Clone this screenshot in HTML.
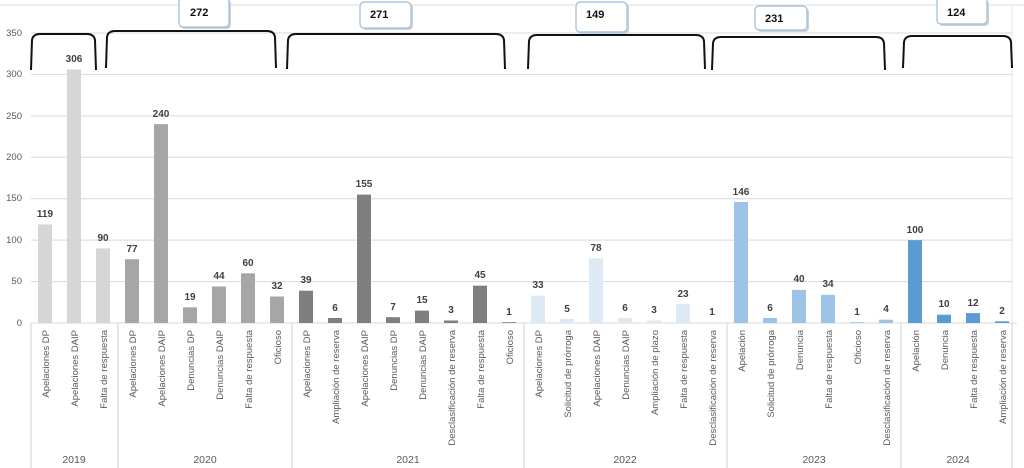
<!DOCTYPE html>
<html><head><meta charset="utf-8"><style>
body{margin:0;background:#fff;}
svg{display:block;font-family:"Liberation Sans",sans-serif;}
.v{font-size:10px;font-weight:bold;fill:#404040;text-anchor:middle;}
.c{font-size:9.5px;fill:#595959;text-anchor:end;}
.y{font-size:10.5px;fill:#595959;text-anchor:middle;}
.t{font-size:9.5px;fill:#595959;text-anchor:end;}
.g{stroke:#d9d9d9;stroke-width:1;}
.b{fill:none;stroke:#111;stroke-width:2;}
.box{fill:#fff;stroke:#9dbbd9;stroke-width:1.2;}
.sh{fill:#c8d3de;}
.bt{font-size:11px;font-weight:bold;fill:#111;}
</style></head><body>
<svg width="1024" height="468" viewBox="0 0 1024 468">
<rect x="0" y="0" width="1024" height="468" fill="#fff"/>
<line x1="0" y1="5" x2="1024" y2="5" stroke="#ddd"/>
<line x1="1012" y1="5" x2="1012" y2="468" stroke="#e5e5e5"/>
<g class="g">
<line x1="31" y1="33" x2="1012" y2="33"/><line x1="31" y1="74.4" x2="1012" y2="74.4"/>
<line x1="31" y1="115.9" x2="1012" y2="115.9"/><line x1="31" y1="157.3" x2="1012" y2="157.3"/>
<line x1="31" y1="198.7" x2="1012" y2="198.7"/><line x1="31" y1="240.1" x2="1012" y2="240.1"/>
<line x1="31" y1="281.6" x2="1012" y2="281.6"/><line x1="31" y1="323" x2="1017" y2="323"/>
</g>
<g class="t">
<text x="22" y="36">350</text><text x="22" y="77">300</text><text x="22" y="119">250</text>
<text x="22" y="160">200</text><text x="22" y="201">150</text><text x="22" y="243">100</text>
<text x="22" y="284">50</text><text x="22" y="326">0</text>
</g>
<g stroke="#d0d0d0">
<line x1="31" y1="323" x2="31" y2="468"/><line x1="118" y1="323" x2="118" y2="468"/>
<line x1="292" y1="323" x2="292" y2="468"/><line x1="524" y1="323" x2="524" y2="468"/>
<line x1="727" y1="323" x2="727" y2="468"/><line x1="901" y1="323" x2="901" y2="468"/>
<line x1="1012" y1="323" x2="1012" y2="468"/>
</g>
<g fill="#d6d6d6">
<rect x="38" y="224.4" width="14" height="98.6"/><rect x="67" y="69.5" width="14" height="253.5"/><rect x="96" y="248.4" width="14" height="74.6"/>
</g>
<g fill="#a6a6a6">
<rect x="125" y="259.2" width="14" height="63.8"/><rect x="154" y="124.1" width="14" height="198.9"/><rect x="183" y="307.3" width="14" height="15.7"/>
<rect x="212" y="286.5" width="14" height="36.5"/><rect x="241" y="273.3" width="14" height="49.7"/><rect x="270" y="296.5" width="14" height="26.5"/>
</g>
<g fill="#7f7f7f">
<rect x="299" y="290.7" width="14" height="32.3"/><rect x="328" y="318" width="14" height="5"/><rect x="357" y="194.6" width="14" height="128.4"/>
<rect x="386" y="317.2" width="14" height="5.8"/><rect x="415" y="310.6" width="14" height="12.4"/><rect x="444" y="320.5" width="14" height="2.5"/>
<rect x="473" y="285.7" width="14" height="37.3"/><rect x="502" y="322.2" width="14" height="0.8"/>
</g>
<g fill="#ddeaf6">
<rect x="531" y="295.7" width="14" height="27.3"/><rect x="560" y="318.9" width="14" height="4.1"/><rect x="589" y="258.4" width="14" height="64.6"/>
<rect x="618" y="318" width="14" height="5"/><rect x="647" y="320.5" width="14" height="2.5"/><rect x="676" y="303.9" width="14" height="19.1"/>
<rect x="705" y="322.2" width="14" height="0.8"/>
</g>
<g fill="#9dc3e6">
<rect x="734" y="202" width="14" height="121"/><rect x="763" y="318" width="14" height="5"/><rect x="792" y="289.9" width="14" height="33.1"/>
<rect x="821" y="294.8" width="14" height="28.2"/><rect x="850" y="322.2" width="14" height="0.8"/><rect x="879" y="319.7" width="14" height="3.3"/>
</g>
<g fill="#5b9bd5">
<rect x="908" y="240.1" width="14" height="82.9"/><rect x="937" y="314.7" width="14" height="8.3"/><rect x="966" y="313.1" width="14" height="9.9"/>
<rect x="995" y="321.3" width="14" height="1.7"/>
</g>
<g class="v">
<text x="45" y="217">119</text><text x="74" y="62">306</text><text x="103" y="241">90</text>
<text x="132" y="252">77</text><text x="161" y="117">240</text><text x="190" y="300">19</text>
<text x="219" y="279">44</text><text x="248" y="266">60</text><text x="277" y="289">32</text>
<text x="306" y="283">39</text><text x="335" y="311">6</text><text x="364" y="187">155</text>
<text x="393" y="310">7</text><text x="422" y="303">15</text><text x="451" y="313">3</text>
<text x="480" y="278">45</text><text x="509" y="315">1</text>
<text x="538" y="288">33</text><text x="567" y="312">5</text><text x="596" y="251">78</text>
<text x="625" y="311">6</text><text x="654" y="313">3</text><text x="683" y="297">23</text><text x="712" y="315">1</text>
<text x="741" y="195">146</text><text x="770" y="311">6</text><text x="799" y="282">40</text>
<text x="828" y="287">34</text><text x="857" y="315">1</text><text x="886" y="312">4</text>
<text x="915" y="233">100</text><text x="944" y="307">10</text><text x="973" y="306">12</text><text x="1002" y="314">2</text>
</g>
<g class="c">
<text transform="translate(49,330) rotate(-90)">Apelaciones DP</text>
<text transform="translate(78,330) rotate(-90)">Apelaciones DAIP</text>
<text transform="translate(107,330) rotate(-90)">Falta de respuesta</text>
<text transform="translate(136,330) rotate(-90)">Apelaciones DP</text>
<text transform="translate(165,330) rotate(-90)">Apelaciones DAIP</text>
<text transform="translate(194,330) rotate(-90)">Denuncias DP</text>
<text transform="translate(223,330) rotate(-90)">Denuncias DAIP</text>
<text transform="translate(252,330) rotate(-90)">Falta de respuesta</text>
<text transform="translate(281,330) rotate(-90)">Oficioso</text>
<text transform="translate(310,330) rotate(-90)">Apelaciones DP</text>
<text transform="translate(339,330) rotate(-90)">Ampliación de reserva</text>
<text transform="translate(368,330) rotate(-90)">Apelaciones DAIP</text>
<text transform="translate(397,330) rotate(-90)">Denuncias DP</text>
<text transform="translate(426,330) rotate(-90)">Denuncias DAIP</text>
<text transform="translate(455,330) rotate(-90)">Desclasificación de reserva</text>
<text transform="translate(484,330) rotate(-90)">Falta de respuesta</text>
<text transform="translate(513,330) rotate(-90)">Oficioso</text>
<text transform="translate(542,330) rotate(-90)">Apelaciones DP</text>
<text transform="translate(571,330) rotate(-90)">Solicitud de prórroga</text>
<text transform="translate(600,330) rotate(-90)">Apelaciones DAIP</text>
<text transform="translate(629,330) rotate(-90)">Denuncias DAIP</text>
<text transform="translate(658,330) rotate(-90)">Ampliación de plazo</text>
<text transform="translate(687,330) rotate(-90)">Falta de respuesta</text>
<text transform="translate(716,330) rotate(-90)">Desclasificación de reserva</text>
<text transform="translate(745,330) rotate(-90)">Apelación</text>
<text transform="translate(774,330) rotate(-90)">Solicitud de prórroga</text>
<text transform="translate(803,330) rotate(-90)">Denuncia</text>
<text transform="translate(832,330) rotate(-90)">Falta de respuesta</text>
<text transform="translate(861,330) rotate(-90)">Oficioso</text>
<text transform="translate(890,330) rotate(-90)">Desclasificación de reserva</text>
<text transform="translate(919,330) rotate(-90)">Apelación</text>
<text transform="translate(948,330) rotate(-90)">Denuncia</text>
<text transform="translate(977,330) rotate(-90)">Falta de respuesta</text>
<text transform="translate(1006,330) rotate(-90)">Ampliación de reserva</text>
</g>
<g class="y">
<text x="74" y="463">2019</text><text x="205" y="463">2020</text><text x="408" y="463">2021</text>
<text x="625" y="463">2022</text><text x="814" y="463">2023</text><text x="958" y="463">2024</text>
</g>
<g class="b">
<path d="M31,70 L32,40 Q33,34 40,34 L87,34 Q94,34 95,40 L96,70"/>
<path d="M106,68 L107,37 Q108,31 115,31 L267,31 Q274,31 275,37 L276,68"/>
<path d="M287,69 L288,40 Q289,34 296,34 L496,34 Q503,34 504,40 L505,69"/>
<path d="M528,69 L529,41 Q530,35 537,35 L696,35 Q703,35 704,41 L705,69"/>
<path d="M712,70 L713,43 Q714,37 721,37 L876,37 Q883,37 884,43 L885,70"/>
<path d="M903,68 L904,42 Q905,36 912,36 L1003,36 Q1010,36 1011,42 L1012,68"/>
</g>
<rect class="sh" x="181" y="0" width="50" height="29" rx="4"/>
<rect class="box" x="179" y="-2" width="50" height="29" rx="4"/>
<text class="bt" x="190" y="16">272</text>
<rect class="sh" x="362" y="4" width="51" height="26" rx="4"/>
<rect class="box" x="360" y="2" width="51" height="26" rx="4"/>
<text class="bt" x="370" y="18">271</text>
<rect class="sh" x="578" y="4" width="51" height="30" rx="4"/>
<rect class="box" x="576" y="2" width="51" height="30" rx="4"/>
<text class="bt" x="586" y="18">149</text>
<rect class="sh" x="757" y="8" width="52" height="24" rx="4"/>
<rect class="box" x="755" y="6" width="52" height="24" rx="4"/>
<text class="bt" x="765" y="22">231</text>
<rect class="sh" x="939" y="0" width="50" height="26" rx="4"/>
<rect class="box" x="937" y="-2" width="50" height="26" rx="4"/>
<text class="bt" x="947" y="16">124</text>
</svg>
</body></html>
